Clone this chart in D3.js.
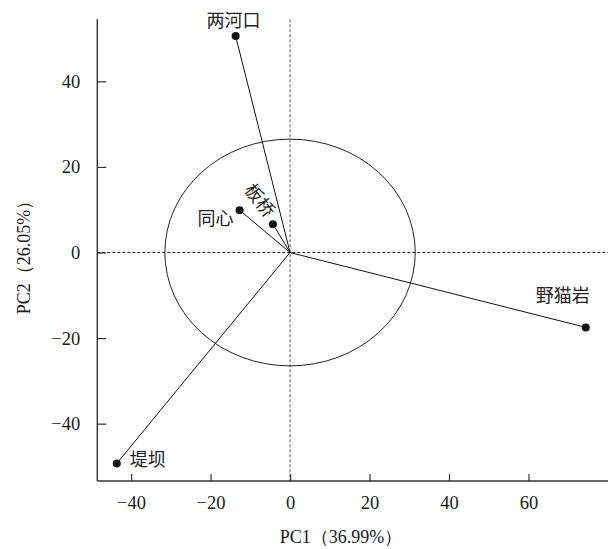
<!DOCTYPE html>
<html>
<head>
<meta charset="utf-8">
<script src="https://cdn.jsdelivr.net/npm/d3@7"></script>
<style>
  body { margin: 0; background: #fff; }
  svg { display: block; }
</style>
</head>
<body>
<svg id="chart" width="608" height="549"></svg>
<script>
// PCA biplot data
const sites = ["两河口", "同心", "板桥", "堤坝", "野猫岩"];
const pc1 = [-13.7, -12.7, -4.3, -43.6, 74.4];
const pc2 = [50.6, 9.9, 6.6, -49.3, -17.5];
const xTicks = [-40, -20, 0, 20, 40, 60];
const yTicks = [-40, -20, 0, 20, 40];
const circleRadius = [31.5, 26.5]; // PC1, PC2 units
const xTitle = "PC1（36.99%）";
const yTitle = "PC2（26.05%）";

const W = 608, H = 549;
const X0 = 97.3, X1 = 608, Y0 = 481, Y1 = 19.3;
const SERIF = "'Liberation Serif', 'Times New Roman', serif";
const CJK = "'Noto Sans CJK SC', sans-serif";

const svg = d3.select("#chart");
const x = d3.scaleLinear().domain([-48.5, 80]).range([X0, X1]);
const y = d3.scaleLinear().domain([-53.4, 54.5]).range([Y0, Y1]);

// Reference lines through origin
svg.append("line").attr("x1", X0).attr("x2", X1).attr("y1", y(0)).attr("y2", y(0))
  .attr("stroke", "#222").attr("stroke-width", 1).attr("stroke-dasharray", "3,2");
svg.append("line").attr("x1", x(0)).attr("x2", x(0)).attr("y1", Y1).attr("y2", Y0)
  .attr("stroke", "#555").attr("stroke-width", 1).attr("stroke-dasharray", "3,2");

// Circle (ellipse in plot units)
svg.append("ellipse").attr("cx", x(0)).attr("cy", y(0))
  .attr("rx", x(circleRadius[0]) - x(0)).attr("ry", y(0) - y(circleRadius[1]))
  .attr("fill", "none").attr("stroke", "#222").attr("stroke-width", 1);

// Axes
const gx = svg.append("g").attr("transform", `translate(0,${Y0})`)
  .call(d3.axisBottom(x).tickValues(xTicks).tickSizeInner(-7).tickSizeOuter(0).tickPadding(15));
const gy = svg.append("g").attr("transform", `translate(${X0},0)`)
  .call(d3.axisLeft(y).tickValues(yTicks).tickSizeInner(-9).tickSizeOuter(0).tickPadding(17));
for (const g of [gx, gy]) {
  g.select(".domain").attr("stroke", "#333").attr("stroke-width", 1.4);
  g.selectAll(".tick line").attr("stroke", "#333").attr("stroke-width", 1.2);
  g.selectAll(".tick text").attr("font-family", SERIF).attr("font-size", "18.5px").attr("fill", "#1a1a1a");
}
gx.select(".domain").attr("d", `M${X0},0H${X1}`);
gy.select(".domain").attr("d", `M0,${Y1}V${Y0}`);

// Loading vectors
const pts = sites.map((s, i) => ({ name: s, px: pc1[i], py: pc2[i] }));
svg.append("g").selectAll("line").data(pts).join("line")
  .attr("x1", x(0)).attr("y1", y(0))
  .attr("x2", d => x(d.px)).attr("y2", d => y(d.py))
  .attr("stroke", "#111").attr("stroke-width", 1);
svg.append("g").selectAll("circle").data(pts).join("circle")
  .attr("cx", d => x(d.px)).attr("cy", d => y(d.py)).attr("r", 4)
  .attr("fill", "#111");

// Site labels: offsets relative to each point
const labelOffsets = {
  "两河口": { dx: -2, dy: -17, anchor: "middle", rot: 0 },
  "同心": { dx: -6, dy: 7, anchor: "end", rot: 0 },
  "板桥": { dx: -12, dy: -25, anchor: "middle", rot: 52 },
  "堤坝": { dx: 13, dy: -5, anchor: "start", rot: 0 },
  "野猫岩": { dx: -23, dy: -33, anchor: "middle", rot: 0 },
};
svg.append("g").selectAll("text").data(pts).join("text")
  .attr("transform", d => {
    const o = labelOffsets[d.name];
    return `translate(${x(d.px) + o.dx},${y(d.py) + o.dy}) rotate(${o.rot})`;
  })
  .attr("text-anchor", d => labelOffsets[d.name].anchor)
  .attr("dominant-baseline", "central")
  .attr("font-family", CJK).attr("font-size", "18px").attr("fill", "#222")
  .text(d => d.name);

// Axis titles
svg.append("text").attr("x", 341).attr("y", 537)
  .attr("text-anchor", "middle").attr("dominant-baseline", "central")
  .attr("font-family", SERIF).attr("font-size", "18px").attr("fill", "#1a1a1a")
  .text(xTitle);
svg.append("text").attr("transform", "translate(24,253) rotate(-90)")
  .attr("text-anchor", "middle").attr("dominant-baseline", "central")
  .attr("font-family", SERIF).attr("font-size", "18px").attr("fill", "#1a1a1a")
  .text(yTitle);
</script>
</body>
</html>
